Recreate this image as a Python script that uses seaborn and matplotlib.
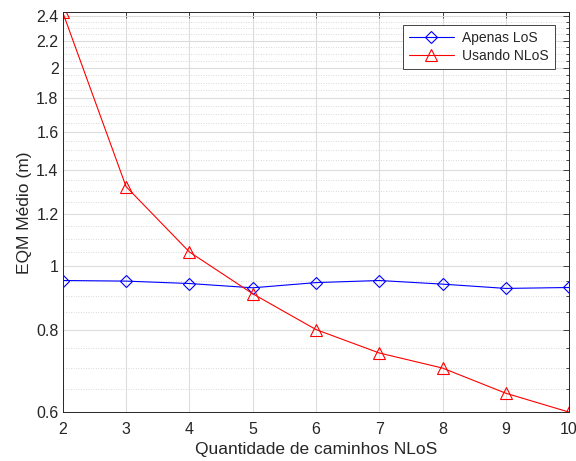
import numpy as np
import pandas as pd
import matplotlib
matplotlib.use('Agg')
import matplotlib.pyplot as plt
import matplotlib.ticker as mticker
import seaborn as sns

# data
n_paths = [2, 3, 4, 5, 6, 7, 8, 9, 10]
apenas_los = [0.950, 0.948, 0.940, 0.926, 0.943, 0.950, 0.938, 0.924, 0.927]
usando_nlos = [2.43, 1.32, 1.05, 0.907, 0.80, 0.737, 0.699, 0.640, 0.599]
y_ticks = [0.6, 0.8, 1, 1.2, 1.4, 1.6, 1.8, 2, 2.2, 2.4]

sns.set_style('white')
plt.rcParams['font.family'] = ['Liberation Sans', 'DejaVu Sans']

txt = '#262626'
fig = plt.figure(figsize=(5.76, 4.61), dpi=100)
ax = fig.add_axes([0.109, 0.106, 0.879, 0.867])

sns.lineplot(x=n_paths, y=apenas_los, ax=ax, color='#0000ff', lw=0.8,
             marker='D', ms=6.5, mfc='none', mec='#0000ff', mew=0.8,
             label='Apenas LoS')
sns.lineplot(x=n_paths, y=usando_nlos, ax=ax, color='#ff0000', lw=0.8,
             marker='^', ms=8.5, mfc='none', mec='#ff0000', mew=0.8,
             label='Usando NLoS')

ax.set_yscale('log')
ax.set_xlim(2, 10)
ax.set_ylim(min(usando_nlos), max(usando_nlos))
ax.yaxis.set_major_locator(mticker.FixedLocator(y_ticks))
ax.yaxis.set_major_formatter(mticker.FuncFormatter(lambda v, p: f'{v:g}'))
minors = [v for v in np.arange(0.6, 2.45, 0.05).round(2)
          if not any(abs(v - t) < 1e-6 for t in y_ticks)]
ax.yaxis.set_minor_locator(mticker.FixedLocator(minors))
ax.yaxis.set_minor_formatter(mticker.NullFormatter())
ax.set_xticks(n_paths)

ax.grid(True, which='major', color='#dcdcdc', lw=0.8)
ax.grid(True, which='minor', axis='y', color='#cccccc', lw=0.6, ls=(0, (1, 2)))
ax.set_axisbelow(True)

ax.tick_params(which='both', direction='in', top=True, right=True,
               colors=txt, labelsize=11.5, length=4, width=0.6)
ax.tick_params(which='minor', length=2)
ax.tick_params(axis='x', pad=7)
ax.tick_params(axis='y', pad=3)
for s in ax.spines.values():
    s.set_color(txt)
    s.set_linewidth(0.7)

ax.set_xlabel('Quantidade de caminhos NLoS', fontsize=12.5, color=txt, labelpad=4)
ax.set_ylabel('EQM Médio (m)', fontsize=12.5, color=txt, labelpad=3)

leg = ax.legend(loc='upper right', bbox_to_anchor=(0.972, 0.969), borderaxespad=0,
                fontsize=10, fancybox=False, framealpha=1, edgecolor=txt,
                handlelength=3.2, handletextpad=0.6, borderpad=0.45,
                labelspacing=0.25)
leg.get_frame().set_linewidth(0.6)
for t in leg.get_texts():
    t.set_color(txt)

fig.savefig('out.png', dpi=100)
